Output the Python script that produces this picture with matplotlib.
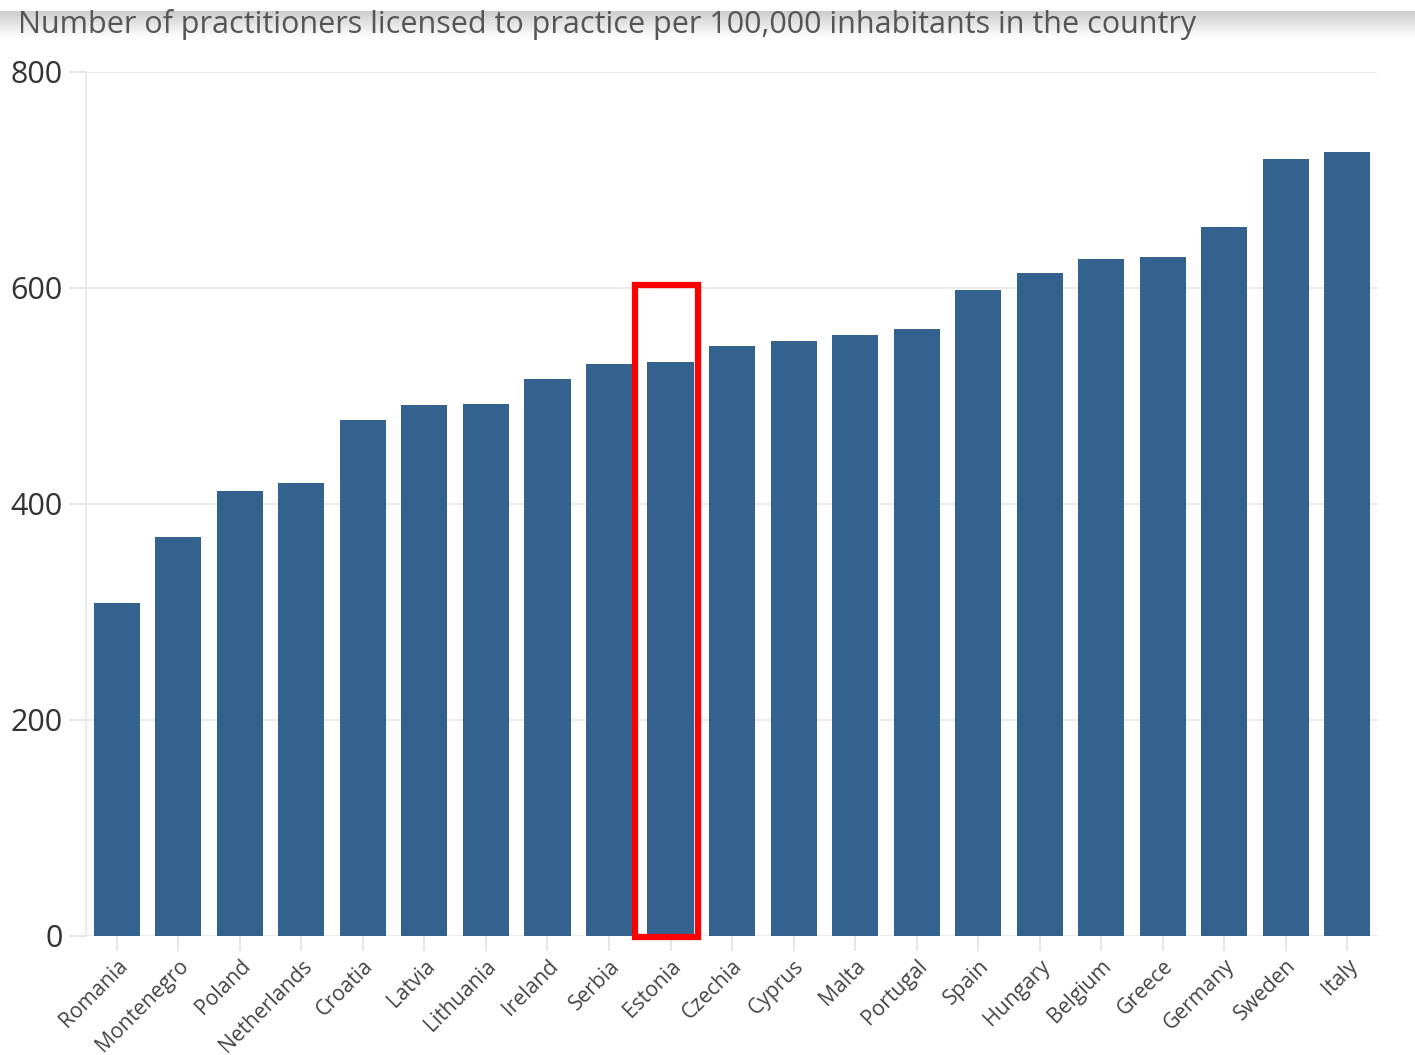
import numpy as np
import matplotlib.pyplot as plt
from matplotlib.patches import Rectangle

countries = ['Romania', 'Montenegro', 'Poland', 'Netherlands', 'Croatia', 'Latvia',
             'Lithuania', 'Ireland', 'Serbia', 'Estonia', 'Czechia', 'Cyprus', 'Malta',
             'Portugal', 'Spain', 'Hungary', 'Belgium', 'Greece', 'Germany', 'Sweden', 'Italy']
values = [308, 369, 412, 419, 478, 492, 493, 516, 530, 531, 546, 551, 556, 562,
          598, 614, 627, 629, 656, 719, 726]
yticks = [0, 200, 400, 600, 800]
highlight = 'Estonia'

plt.rcParams['font.family'] = ['Open Sans', 'DejaVu Sans']

fig = plt.figure(figsize=(14.15, 10.55), dpi=100)
ax = fig.add_axes([0.0608, 0.1128, 0.9131, 0.819])

x = np.arange(len(countries))
ax.bar(x, values, width=0.75, color='#34628f', zorder=3)

ax.set_xlim(-0.5, len(countries) - 0.5)
ax.set_ylim(0, 800)
ax.set_yticks(yticks)
ax.set_yticklabels([str(v) for v in yticks], fontsize=22, color='#333333')
ax.set_xticks(x)
ax.set_xticklabels(countries, rotation=45, ha='right', va='top',
                   rotation_mode='anchor', fontsize=15.2, color='#444444')
ax.tick_params(axis='y', length=12, width=1.5, color='#e6e6e6', pad=5)
ax.tick_params(axis='x', length=11, width=1.5, color='#e6e6e6', pad=3)
ax.grid(axis='y', color='#ebebeb', linewidth=1.5, zorder=0)
for s in ['top', 'right', 'bottom']:
    ax.spines[s].set_visible(False)
ax.spines['left'].set_color('#ebebeb')
ax.spines['left'].set_linewidth(1.5)

# red box round the highlighted country
i = countries.index(highlight)
ax.add_patch(Rectangle((i - 0.57, -1), 1.02, 604, fill=False, edgecolor='#ff0000',
                       linewidth=4.5, zorder=5, clip_on=False))

# shadow band at the top of the screenshot
sh = fig.add_axes([0, 1 - 38 / 1055, 1, 27 / 1055])
grad = np.linspace(0.8, 1.0, 50).reshape(-1, 1)
sh.imshow(grad, aspect='auto', cmap='gray', vmin=0, vmax=1, extent=[0, 1, 0, 1])
sh.axis('off')

fig.text(18 / 1415, 1 - 25 / 1055, 'Number of practitioners licensed to practice per 100,000 inhabitants in the country',
         fontsize=22, color='#555555', va='center', ha='left')

fig.savefig('out.png', dpi=100)
